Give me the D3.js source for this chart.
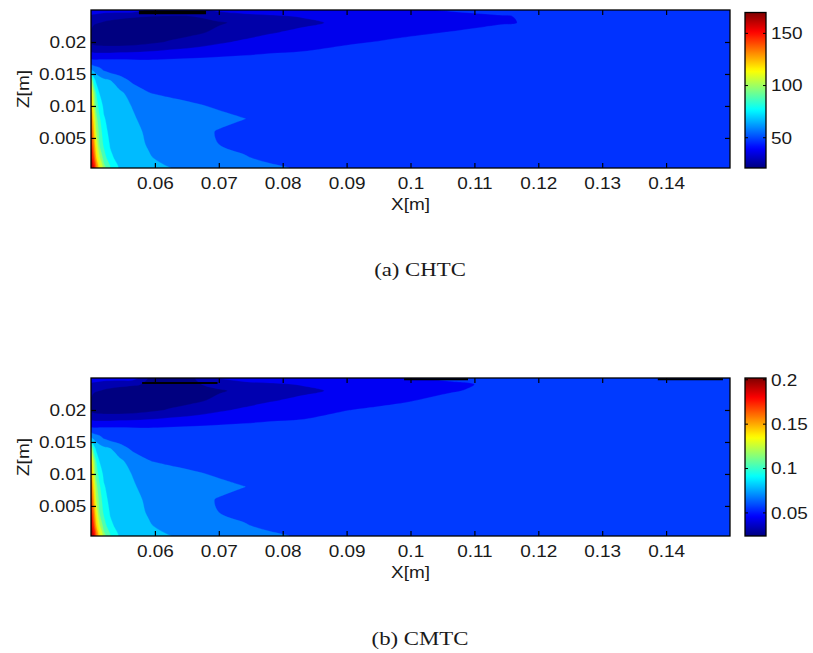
<!DOCTYPE html>
<html>
<head>
<meta charset="utf-8">
<script src="https://cdn.jsdelivr.net/npm/d3@7"></script>
<style>
  body { margin: 0; background: #fff; }
  svg text { font-family: "Liberation Sans", Arial, sans-serif; font-size: 16.5px; fill: #1a1a1a; }
  svg text.caption { font-family: "Liberation Serif", "Times New Roman", serif; font-size: 19px; }
</style>
</head>
<body>
<svg width="813" height="653"></svg>
<script>

// grid columns (x) and rows (z), rows go from the bottom wall up
const xs = [0.0500, 0.0504, 0.0508, 0.0513, 0.0520, 0.0530, 0.0545, 0.0565, 0.0590, 0.0620, 0.0660,
            0.0700, 0.0740, 0.0780, 0.0830, 0.0900, 0.0980, 0.1060, 0.1140, 0.1220, 0.1350, 0.1500];
const zs = [0.0003, 0.0020, 0.0040, 0.0060, 0.0080, 0.0100, 0.0120, 0.0140,
            0.0155, 0.0170, 0.0185, 0.0200, 0.0215, 0.0230, 0.0240, 0.0250];

const xTicks = [0.06, 0.07, 0.08, 0.09, 0.1, 0.11, 0.12, 0.13, 0.14];
const xTickLabels = ["0.06", "0.07", "0.08", "0.09", "0.1", "0.11", "0.12", "0.13", "0.14"];
const zTicks = [0.005, 0.01, 0.015, 0.02];
const zTickLabels = ["0.005", "0.01", "0.015", "0.02"];

// (a) CHTC
const chtcGrid = [
  [170, 162, 140, 124, 104, 90, 78, 75, 72, 70.3, 68, 66, 64, 61.5, 59, 57, 56, 55.5, 55, 55, 55, 55],
  [165, 150, 130, 112, 95, 82, 76, 74, 70.5, 68, 66, 63.5, 60.5, 58, 56.5, 55.5, 55, 55, 55, 55, 55, 55],
  [157, 140, 120, 100, 88, 79, 75, 72, 69.5, 66.5, 63, 60, 58, 56.5, 55.5, 55, 55, 55, 55, 55, 55, 55],
  [151, 133, 110, 97, 84, 77, 74, 71.5, 69, 66, 62.5, 59.5, 57.5, 56, 55.5, 55, 55, 55, 55, 55, 55, 55],
  [144, 125, 104, 92, 81, 76, 73.5, 70.5, 68.5, 66, 63, 62, 60.1, 58, 56.5, 55.5, 55, 55, 55, 55, 55, 55],
  [136, 115, 96, 86, 78, 74, 71.5, 69.8, 67, 64.5, 61, 59, 57.5, 56.5, 55.8, 55.3, 55, 55, 55, 55, 55, 55],
  [128, 108, 90, 80, 75, 72.5, 72, 66, 60.3, 58, 57, 56.5, 56, 55.5, 55.3, 55, 55, 55, 55, 55, 55, 55],
  [110, 86, 77, 74, 72, 70, 64, 58, 56.5, 56, 55.5, 55.5, 55, 55, 55, 55, 55, 55, 55, 55, 55, 55],
  [73, 69, 66.5, 64, 60, 57, 55.5, 55, 55, 55, 55, 55, 55, 55, 55, 55, 55, 55, 55, 55, 55, 55],
  [52, 52, 52, 52.5, 52.5, 52.5, 52.5, 52, 51.5, 52, 52.5, 53, 53.5, 54, 54.5, 55, 55, 55, 55, 55, 55, 55],
  [39, 38.5, 38, 38, 38, 38, 38.5, 39, 40, 42, 44, 46, 47.5, 49, 50, 52, 53.5, 54.5, 55, 55, 55, 55],
  [27, 26, 25.5, 25, 24.5, 24, 24, 25, 27.5, 30.5, 34, 38.5, 41.5, 44, 46.5, 49, 51, 52.5, 53.5, 54.5, 55, 55],
  [29, 27, 26, 25, 24, 23, 22, 21.5, 24, 25.5, 28, 32, 36, 39.2, 42, 45, 48.5, 50.2, 52, 53.5, 54.5, 55],
  [32, 31, 30.5, 30, 29, 28, 27, 26, 26, 26, 27, 29, 32, 35, 38, 42, 45, 47, 49.5, 51, 53, 54],
  [38, 37.5, 37, 36, 34, 33, 32, 31, 30, 29.5, 30, 34, 37, 38.5, 40.5, 45, 47, 48, 49.5, 51.5, 53.5, 54.5],
  [45, 45, 45, 45, 45, 45, 45, 45, 38, 36, 36, 42, 44, 45, 45, 47, 48.5, 50.5, 52, 53, 54, 54.5]
];
const chtcLevels = [30, 40, 50, 60, 70, 80, 90, 100, 110, 120, 130, 140, 150, 160];
const chtcRange = [21, 170];
const chtcBarTicks = [50, 100, 150];
const chtcBarLabels = ["50", "100", "150"];
const chtcEdgeMarks = [[0.0575, 0.0680, 0.0246]];

// (b) CMTC
const cmtcGrid = [
  [0.2016, 0.1944, 0.1680, 0.1488, 0.1248, 0.1080, 0.0936, 0.0900, 0.0864, 0.0844, 0.0816, 0.0792, 0.0768, 0.0738, 0.0708, 0.0684, 0.0672, 0.0666, 0.0660, 0.0660, 0.0660, 0.0660],
  [0.1980, 0.1800, 0.1560, 0.1344, 0.1140, 0.0984, 0.0912, 0.0888, 0.0846, 0.0816, 0.0792, 0.0762, 0.0726, 0.0696, 0.0678, 0.0666, 0.0660, 0.0660, 0.0660, 0.0660, 0.0660, 0.0660],
  [0.1884, 0.1680, 0.1440, 0.1200, 0.1056, 0.0948, 0.0900, 0.0864, 0.0834, 0.0798, 0.0756, 0.0720, 0.0696, 0.0678, 0.0666, 0.0660, 0.0660, 0.0660, 0.0660, 0.0660, 0.0660, 0.0660],
  [0.1812, 0.1596, 0.1320, 0.1164, 0.1008, 0.0924, 0.0888, 0.0858, 0.0828, 0.0792, 0.0750, 0.0714, 0.0690, 0.0672, 0.0666, 0.0660, 0.0660, 0.0660, 0.0660, 0.0660, 0.0660, 0.0660],
  [0.1728, 0.1500, 0.1248, 0.1104, 0.0972, 0.0912, 0.0882, 0.0846, 0.0822, 0.0792, 0.0756, 0.0744, 0.0721, 0.0696, 0.0678, 0.0666, 0.0660, 0.0660, 0.0660, 0.0660, 0.0660, 0.0660],
  [0.1632, 0.1380, 0.1152, 0.1032, 0.0936, 0.0888, 0.0858, 0.0838, 0.0804, 0.0774, 0.0732, 0.0708, 0.0690, 0.0678, 0.0670, 0.0664, 0.0660, 0.0660, 0.0660, 0.0660, 0.0660, 0.0660],
  [0.1536, 0.1296, 0.1080, 0.0960, 0.0900, 0.0870, 0.0864, 0.0792, 0.0724, 0.0696, 0.0684, 0.0678, 0.0672, 0.0666, 0.0664, 0.0660, 0.0660, 0.0660, 0.0660, 0.0660, 0.0660, 0.0660],
  [0.1320, 0.1032, 0.0924, 0.0888, 0.0864, 0.0840, 0.0768, 0.0696, 0.0678, 0.0672, 0.0666, 0.0666, 0.0660, 0.0660, 0.0660, 0.0660, 0.0660, 0.0660, 0.0660, 0.0660, 0.0660, 0.0660],
  [0.0876, 0.0828, 0.0798, 0.0768, 0.0720, 0.0684, 0.0666, 0.0660, 0.0660, 0.0660, 0.0660, 0.0660, 0.0660, 0.0660, 0.0660, 0.0660, 0.0660, 0.0660, 0.0660, 0.0660, 0.0660, 0.0660],
  [0.0624, 0.0624, 0.0624, 0.0630, 0.0630, 0.0630, 0.0630, 0.0624, 0.0618, 0.0624, 0.0630, 0.0636, 0.0642, 0.0648, 0.0654, 0.0660, 0.0660, 0.0660, 0.0660, 0.0660, 0.0660, 0.0660],
  [0.0468, 0.0462, 0.0456, 0.0456, 0.0456, 0.0456, 0.0462, 0.0468, 0.0480, 0.0504, 0.0528, 0.0552, 0.0570, 0.0588, 0.0600, 0.0624, 0.0642, 0.0654, 0.0660, 0.0660, 0.0660, 0.0660],
  [0.0324, 0.0312, 0.0306, 0.0300, 0.0294, 0.0288, 0.0288, 0.0300, 0.0330, 0.0366, 0.0408, 0.0462, 0.0498, 0.0528, 0.0558, 0.0598, 0.0618, 0.0630, 0.0642, 0.0654, 0.0660, 0.0660],
  [0.0348, 0.0324, 0.0312, 0.0300, 0.0288, 0.0276, 0.0264, 0.0246, 0.0288, 0.0306, 0.0336, 0.0384, 0.0432, 0.0470, 0.0504, 0.0546, 0.0590, 0.0618, 0.0630, 0.0642, 0.0654, 0.0660],
  [0.0384, 0.0372, 0.0366, 0.0360, 0.0348, 0.0336, 0.0324, 0.0312, 0.0312, 0.0312, 0.0324, 0.0348, 0.0384, 0.0420, 0.0456, 0.0504, 0.0558, 0.0594, 0.0618, 0.0630, 0.0642, 0.0654],
  [0.0456, 0.0450, 0.0444, 0.0432, 0.0408, 0.0396, 0.0384, 0.0372, 0.0348, 0.0342, 0.0345, 0.0390, 0.0444, 0.0462, 0.0486, 0.0540, 0.0564, 0.0588, 0.0612, 0.0624, 0.0642, 0.0654],
  [0.0540, 0.0540, 0.0540, 0.0540, 0.0540, 0.0540, 0.0540, 0.0540, 0.0350, 0.0345, 0.0350, 0.0480, 0.0528, 0.0540, 0.0540, 0.0564, 0.0590, 0.0612, 0.0630, 0.0640, 0.0648, 0.0654]
];
const cmtcLevels = [0.036, 0.048, 0.060, 0.072, 0.084, 0.096, 0.108, 0.120, 0.132, 0.144, 0.156, 0.168, 0.180, 0.192];
const cmtcRange = [0.024, 0.202];
const cmtcBarTicks = [0.05, 0.1, 0.15, 0.2];
const cmtcBarLabels = ["0.05", "0.1", "0.15", "0.2"];
const cmtcEdgeMarks = [[0.0580, 0.0698, 0.0242], [0.0990, 0.1090, 0.0248], [0.1387, 0.1489, 0.0248]];

// matlab-like jet colormap
let jet = (t) => {
  let c = v => Math.round(255 * Math.max(0, Math.min(1, v)));
  return d3.rgb(c(1.5 - Math.abs(4*t - 3)), c(1.5 - Math.abs(4*t - 2)), c(1.5 - Math.abs(4*t - 1))).toString();
}

const svg = d3.select('svg');
const left = 91, right = 730, plotH = 158;
const barX0 = 745, barX1 = 766;

let grad = svg.append('defs').append('linearGradient')
  .attr('id', 'jetGrad').attr('x1', 0).attr('y1', 1).attr('x2', 0).attr('y2', 0);
d3.range(0, 1.0001, 0.02).forEach(t => {
  grad.append('stop').attr('offset', t).attr('stop-color', jet(t));
});

const x = d3.scaleLinear().domain([0.05, 0.15]).range([left, right]);

// grid index -> data coordinate (values sit at cell centres in d3.contours)
const fx = d3.scaleLinear().domain(xs.map((d, i) => i + 0.5)).range(xs).clamp(true);
const fz = d3.scaleLinear().domain(zs.map((d, i) => i + 0.5)).range(zs).clamp(true);

let stretch = sel => sel.attr('transform', 'scale(1.15,1)');
let smooth = d3.line().curve(d3.curveCatmullRomClosed.alpha(0.5));

let drawPanel = (p, idx) => {
  const top = p.top, bottom = p.top + plotH;
  const y = d3.scaleLinear().domain([0.0003, 0.025]).range([bottom, top]);
  const g = svg.append('g');

  g.append('clipPath').attr('id', 'clip' + idx)
    .append('rect').attr('x', left).attr('y', top).attr('width', right - left).attr('height', plotH);

  // band colour: colormap taken a bit below the band's lower level
  const shift = (p.levels[1] - p.levels[0]) * 0.3;
  const t = v => Math.max(0, (v - shift - p.range[0]) / (p.range[1] - p.range[0]));

  // each filled region -> smoothed closed rings in pixel space
  const ringPath = geom => geom.coordinates.map(poly => poly.map(ring => {
    let pts = ring.slice(0, -1).map(([i, j]) => [x(fx(i)), y(fz(j))]);
    pts = pts.filter((q, k) => {
      const prev = pts[(k + pts.length - 1) % pts.length];
      return k === 0 || Math.abs(q[0] - prev[0]) > 0.01 || Math.abs(q[1] - prev[1]) > 0.01;
    });
    return pts.length > 2 ? smooth(pts) : '';
  }).join('')).join('');

  const cg = g.append('g').attr('clip-path', 'url(#clip' + idx + ')');
  cg.append('rect').attr('x', left).attr('y', top).attr('width', right - left).attr('height', plotH)
    .attr('fill', jet(0));

  const contours = d3.contours().size([xs.length, zs.length]).thresholds(p.levels)(p.grid.flat());
  cg.selectAll('path.band').data(contours).join('path')
    .attr('class', 'band')
    .attr('d', ringPath)
    .attr('fill', d => jet(t(d.value)))
    .attr('stroke', d => jet(t(d.value)))
    .attr('stroke-width', 0.3);

  // dark marks along the top edge
  cg.selectAll('line.mark').data(p.marks).join('line')
    .attr('class', 'mark')
    .attr('x1', d => x(d[0])).attr('x2', d => x(d[1]))
    .attr('y1', d => y(d[2])).attr('y2', d => y(d[2]))
    .attr('stroke', '#000').attr('stroke-width', p.markWidth);

  // axes, ticks pointing inwards on all four sides
  let gx = g.append('g').attr('transform', 'translate(0,' + bottom + ')')
    .call(d3.axisBottom(x).tickValues(xTicks).tickFormat((d, i) => xTickLabels[i])
      .tickSizeInner(-5).tickSizeOuter(0).tickPadding(9));
  gx.selectAll('text').call(stretch);
  g.append('g').attr('transform', 'translate(0,' + top + ')')
    .call(d3.axisTop(x).tickValues(xTicks).tickFormat('').tickSizeInner(-5).tickSizeOuter(0));
  let gy = g.append('g').attr('transform', 'translate(' + left + ',0)')
    .call(d3.axisLeft(y).tickValues(zTicks).tickFormat((d, i) => zTickLabels[i])
      .tickSizeInner(-5).tickSizeOuter(0).tickPadding(4));
  gy.selectAll('text').call(stretch);
  g.append('g').attr('transform', 'translate(' + right + ',0)')
    .call(d3.axisRight(y).tickValues(zTicks).tickFormat('').tickSizeInner(-5).tickSizeOuter(0));
  g.selectAll('.domain').remove();
  g.selectAll('.tick line').attr('stroke', '#000').attr('stroke-width', 1.2);

  g.append('rect').attr('x', left).attr('y', top).attr('width', right - left).attr('height', plotH)
    .attr('fill', 'none').attr('stroke', '#000').attr('stroke-width', 1.3);

  g.append('text').attr('text-anchor', 'middle')
    .attr('transform', 'translate(' + ((left + right) / 2) + ',' + (bottom + 41.5) + ') scale(1.15,1)')
    .text('X[m]');
  g.append('text').attr('text-anchor', 'middle')
    .attr('transform', 'translate(29,' + ((top + bottom) / 2) + ') rotate(-90) scale(1.15,1)')
    .text('Z[m]');

  // colorbar
  const cb = d3.scaleLinear().domain(p.range).range([bottom, p.barTop]);
  g.append('rect').attr('x', barX0).attr('y', p.barTop).attr('width', barX1 - barX0).attr('height', bottom - p.barTop)
    .attr('fill', 'url(#jetGrad)').attr('stroke', '#000').attr('stroke-width', 1.3);
  p.barTicks.forEach((v, i) => {
    g.append('line').attr('x1', barX0).attr('x2', barX0 + 3).attr('y1', cb(v)).attr('y2', cb(v))
      .attr('stroke', '#000').attr('stroke-width', 1);
    g.append('line').attr('x1', barX1).attr('x2', barX1 - 3).attr('y1', cb(v)).attr('y2', cb(v))
      .attr('stroke', '#000').attr('stroke-width', 1);
    g.append('text').attr('dy', '0.35em')
      .attr('transform', 'translate(771,' + cb(v) + ') scale(1.15,1)')
      .text(p.barLabels[i]);
  });

  g.append('text').attr('class', 'caption').attr('text-anchor', 'middle')
    .attr('transform', 'translate(420,' + p.captionY + ') scale(1.2,1)')
    .text(p.caption);
}

const panels = [
  { top: 10, barTop: 12.5, grid: chtcGrid, levels: chtcLevels, range: chtcRange, barTicks: chtcBarTicks,
    barLabels: chtcBarLabels, marks: chtcEdgeMarks, markWidth: 3.5, caption: '(a) CHTC', captionY: 276 },
  { top: 378, barTop: 378, grid: cmtcGrid, levels: cmtcLevels, range: cmtcRange, barTicks: cmtcBarTicks,
    barLabels: cmtcBarLabels, marks: cmtcEdgeMarks, markWidth: 2, caption: '(b) CMTC', captionY: 645 }
];
panels.forEach(drawPanel);

</script>
</body>
</html>
